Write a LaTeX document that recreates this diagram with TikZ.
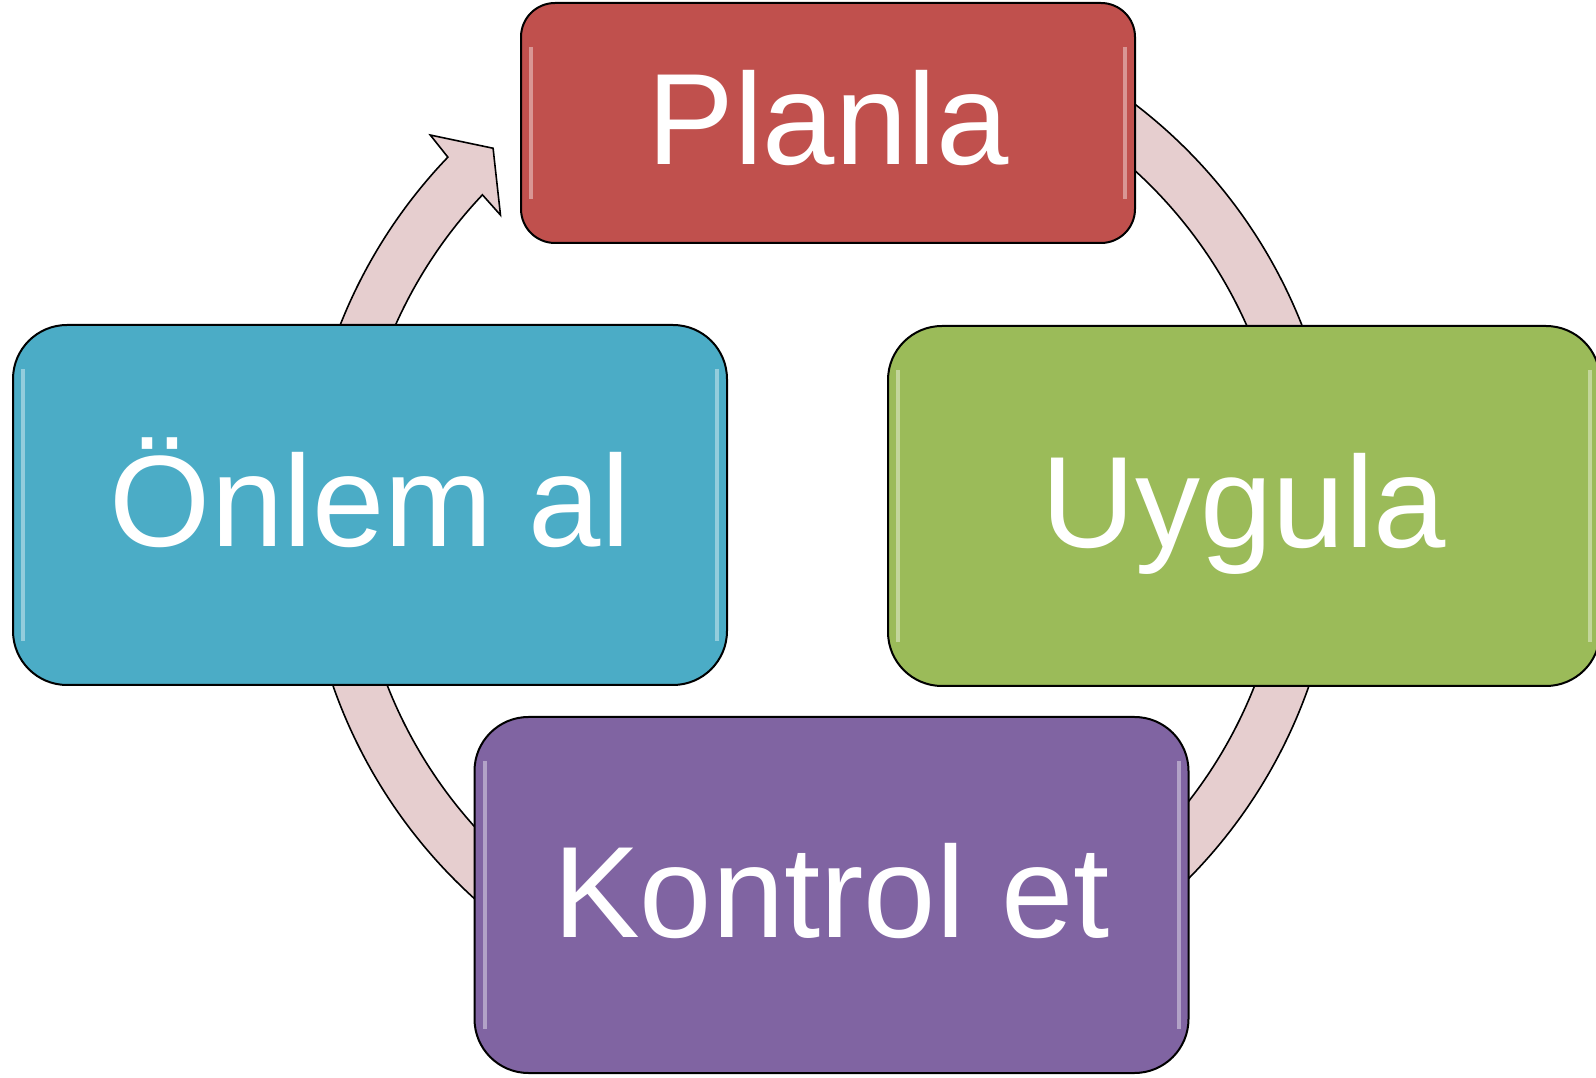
\documentclass[tikz,border=0pt]{standalone}
\usepackage{fontspec}
\setmainfont{Liberation Sans}
\definecolor{planred}{HTML}{C0504D}
\definecolor{dogreen}{HTML}{9BBB59}
\definecolor{checkpurple}{HTML}{8064A2}
\definecolor{actteal}{HTML}{4BACC6}
\definecolor{ringpink}{HTML}{E6CECF}
\begin{document}
\begin{tikzpicture}
    [x=0.5pt,y=0.5pt,
    ring/.style = {fill=ringpink, draw=black, line width=0.8pt},
    stepbox/.style = {rectangle, draw=black, line width=1pt,
                    rounded corners=27pt,
                    minimum width=357pt, minimum height=180pt,
                    inner sep=0pt, text=white,
                    text height=42pt, text depth=0pt,
                    font=\fontsize{65}{70}\selectfont,
                    path picture={\draw[white,opacity=.4,line width=2pt]
                        ([shift={(5pt,-22pt)}]path picture bounding box.north west) --
                        ([shift={(5pt,22pt)}]path picture bounding box.south west)
                        ([shift={(-5pt,-22pt)}]path picture bounding box.north east) --
                        ([shift={(-5pt,22pt)}]path picture bounding box.south east);}}]
    \useasboundingbox (0,0) rectangle (1596,1077);
    \clip (0,0) rectangle (1596,1077);
    % ring
    \begin{scope}[shift={(821,562)}]
        \filldraw[ring] (165:517) arc[start angle=165, end angle=136.2, radius=517]
            -- (135.8:545) -- (131.8:492) -- (136.9:439) -- (136.6:466)
            arc[start angle=136.6, end angle=165, radius=466] -- cycle;
        \foreach \a/\b in {60/15, -15/-60, -120/-165}
            \filldraw[ring] (\a:517) arc[start angle=\a, end angle=\b, radius=517]
                -- (\b:466) arc[start angle=\b, end angle=\a, radius=466] -- cycle;
    \end{scope}
    % boxes
    \node[stepbox, fill=planred, minimum width=307pt, minimum height=120pt,
          rounded corners=17pt] (plan) at (828,954) {Planla};
    \node[stepbox, fill=dogreen, minimum width=356pt] (do) at (1244,571) {Uygula};
    \node[stepbox, fill=checkpurple, minimum height=178pt] (check) at (831.5,182) {Kontrol et};
    \node[stepbox, fill=actteal] (act) at (370,572) {Önlem al};
\end{tikzpicture}
\end{document}
